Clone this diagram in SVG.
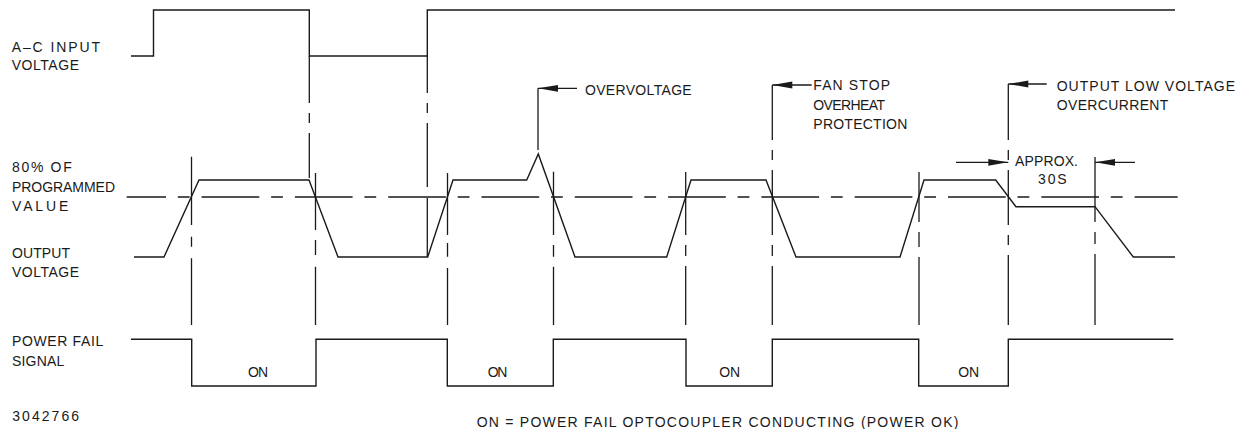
<svg xmlns="http://www.w3.org/2000/svg" width="1250" height="429" viewBox="0 0 1250 429">
<style>
.w{fill:none;stroke:#1a1a1a;stroke-width:1.4;stroke-linejoin:miter}
.g{fill:none;stroke:#1a1a1a;stroke-width:1.3}
.t{font-family:"Liberation Sans",Arial,sans-serif;font-size:14px;fill:#1a1a1a}
</style>
<defs>
<marker id="ah" markerUnits="userSpaceOnUse" viewBox="0 0 21 8" refX="0" refY="4" markerWidth="21" markerHeight="8" orient="auto"><path d="M0,4 L20,0.6 L20,7.4 Z" fill="#1a1a1a"/></marker>
</defs>
<rect width="1250" height="429" fill="#fff"/>
<g id="labels">
<text class="t" x="11.7" y="51.7" textLength="88.3" lengthAdjust="spacing">A–C INPUT</text>
<text class="t" x="11.7" y="70.3" textLength="67.3" lengthAdjust="spacing">VOLTAGE</text>
<text class="t" x="12" y="172.3" textLength="59.7" lengthAdjust="spacing">80% OF</text>
<text class="t" x="12" y="191.7" textLength="103" lengthAdjust="spacing">PROGRAMMED</text>
<text class="t" x="12" y="210.7" textLength="56.3" lengthAdjust="spacing">VALUE</text>
<text class="t" x="12" y="258.3" textLength="58" lengthAdjust="spacing">OUTPUT</text>
<text class="t" x="12" y="277.3" textLength="67" lengthAdjust="spacing">VOLTAGE</text>
<text class="t" x="12" y="346" textLength="91.3" lengthAdjust="spacing">POWER FAIL</text>
<text class="t" x="12" y="366" textLength="52.3" lengthAdjust="spacing">SIGNAL</text>
<text class="t" x="12.3" y="420.7" textLength="66.7" lengthAdjust="spacing">3042766</text>
<text class="t" x="476.7" y="427.3" textLength="481.7" lengthAdjust="spacing">ON = POWER FAIL OPTOCOUPLER CONDUCTING (POWER OK)</text>
</g>
<g id="waveforms">
<path id="ac-input" class="w" d="M131,56 H153.5 V10 H309.3 V56 H427.3 V10 H1175"/>
<path id="output-voltage" class="w" d="M134,257 H164 L199,180 H309 L338,257 H427.7 L453,180 H526.7 L538.3,154 L575,257 H666.7 L691,180 H766 L796,257 H900 L924,180 H995.7 L1016,206.7 H1095 L1133.3,257 H1175"/>
<path id="power-fail" class="w" d="M131,339.3 H191.7 V386 H316 V339.3 H447.3 V386 H553.3 V339.3 H686 V386 H772.3 V339.3 H918.7 V386 H1008.3 V339.3 H1173.3"/>
</g>
<g id="connectors">
<line id="threshold" class="g" x1="126.7" y1="197" x2="1177.7" y2="197" stroke-dasharray="57.7 11.8 11.8 12" stroke-dashoffset="18.4"/>
<path class="g" d="M191.5,156.7 V225 M191.5,236.7 V246.7 M191.5,258.3 V325"/>
<path class="g" d="M309.3,56 V103 M309.3,113 V123 M309.3,133 V178"/>
<path class="g" d="M315.5,173 V230 M315.5,240 V255 M315.5,266.7 V325"/>
<path class="g" d="M427.3,56 V93 M427.3,103 V113 M427.3,123 V187 M427.3,198 V257"/>
<path class="g" d="M447.5,173 V235 M447.5,243 V256.7 M447.5,268 V325"/>
<path class="g" d="M553.5,171.7 V235 M553.5,245 V256.7 M553.5,266.7 V325"/>
<path class="g" d="M685.7,172 V235 M685.7,245 V256 M685.7,266 V325"/>
<path class="g" d="M772.3,85 V140 M772.3,150 V160 M772.3,170 V235 M772.3,245 V256 M772.3,266 V325"/>
<path class="g" d="M919,172 V222 M919,232 V247 M919,257 V325"/>
<path class="g" d="M1008.3,84 V140 M1008.3,150 V160 M1008.3,170 V225 M1008.3,235 V245 M1008.3,255 V325"/>
<path class="g" d="M1095,157 V222 M1095,232 V244 M1095,254 V325"/>
<line class="g" x1="538" y1="150" x2="538" y2="88.3"/>
<line class="g" x1="538" y1="88.3" x2="577" y2="88.3" marker-start="url(#ah)"/>
<line class="g" x1="772.3" y1="85" x2="811.7" y2="85" marker-start="url(#ah)"/>
<line class="g" x1="1008.3" y1="84" x2="1046.7" y2="84" marker-start="url(#ah)"/>
<line class="g" x1="1008.3" y1="162.3" x2="956" y2="162.3" marker-start="url(#ah)"/>
<line class="g" x1="1095" y1="162.3" x2="1135" y2="162.3" marker-start="url(#ah)"/>
</g>
<g id="annotations">
<text class="t" x="585" y="95" textLength="106.7" lengthAdjust="spacing">OVERVOLTAGE</text>
<text class="t" x="813.3" y="90" textLength="76.7" lengthAdjust="spacing">FAN STOP</text>
<text class="t" x="813.3" y="110" textLength="71.7" lengthAdjust="spacing">OVERHEAT</text>
<text class="t" x="813.3" y="129" textLength="94" lengthAdjust="spacing">PROTECTION</text>
<text class="t" x="1056.7" y="90.7" textLength="178.3" lengthAdjust="spacing">OUTPUT LOW VOLTAGE</text>
<text class="t" x="1056.7" y="110" textLength="111.7" lengthAdjust="spacing">OVERCURRENT</text>
<text class="t" x="1015" y="165.7" textLength="63" lengthAdjust="spacing">APPROX.</text>
<text class="t" x="1038" y="184.3" textLength="28.7" lengthAdjust="spacing">30S</text>
<text class="t" x="248" y="377.3" textLength="20" lengthAdjust="spacing">ON</text>
<text class="t" x="487.7" y="377.3" textLength="19.7" lengthAdjust="spacing">ON</text>
<text class="t" x="719.3" y="377.3" textLength="20.7" lengthAdjust="spacing">ON</text>
<text class="t" x="958.3" y="377.3" textLength="20.7" lengthAdjust="spacing">ON</text>
</g>
</svg>
